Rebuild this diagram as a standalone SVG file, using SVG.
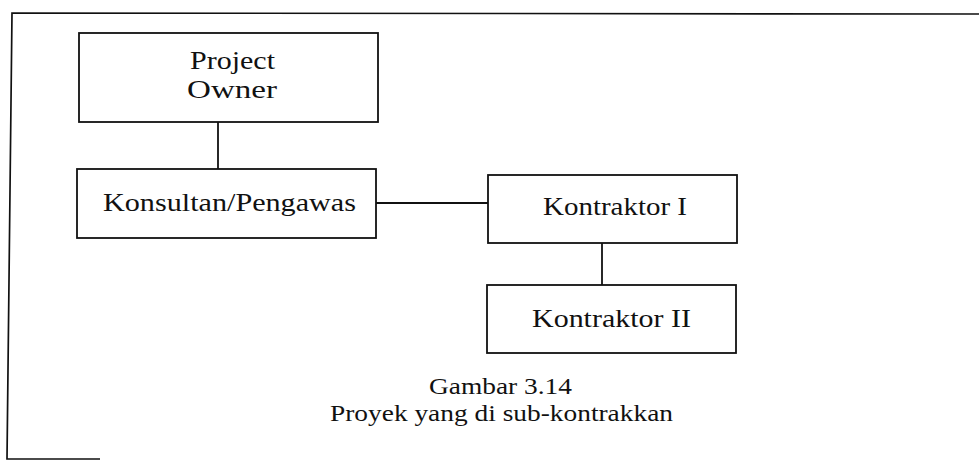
<svg xmlns="http://www.w3.org/2000/svg" width="979" height="461" viewBox="0 0 979 461">
  <style>
    .box { fill: #ffffff; stroke: #111111; stroke-width: 1.8; }
    .frame { fill: none; stroke: #111111; stroke-width: 1.7; }
    .link { fill: none; stroke: #111111; stroke-width: 1.8; }
    .label { font-family: "Liberation Serif", "Times New Roman", serif; font-size: 24.5px; fill: #111111; }
    .caption { font-family: "Liberation Serif", "Times New Roman", serif; font-size: 23px; fill: #111111; }
  </style>
  <rect width="979" height="461" fill="#ffffff"/>

  <!-- page frame: open on the right and along most of the bottom -->
  <g id="frame">
    <polyline class="frame" points="979,14 12,13 7,459 100,459"/>
  </g>

  <!-- connectors between the boxes -->
  <g id="connectors">
    <line class="link" x1="218" y1="122" x2="218" y2="169"/>
    <line class="link" x1="376" y1="203" x2="488" y2="203"/>
    <line class="link" x1="602" y1="243" x2="602" y2="285"/>
  </g>

  <g id="project-owner">
    <rect class="box" x="79" y="33" width="299" height="89"/>
    <text class="label" x="190" y="69" textLength="85" lengthAdjust="spacingAndGlyphs">Project</text>
    <text class="label" x="187" y="98" textLength="90" lengthAdjust="spacingAndGlyphs">Owner</text>
  </g>

  <g id="konsultan">
    <rect class="box" x="77" y="169" width="299" height="69"/>
    <text class="label" x="103" y="211" textLength="253" lengthAdjust="spacingAndGlyphs">Konsultan/Pengawas</text>
  </g>

  <g id="kontraktor-1">
    <rect class="box" x="488" y="175" width="249" height="68"/>
    <text class="label" x="543" y="215" textLength="144" lengthAdjust="spacingAndGlyphs">Kontraktor I</text>
  </g>

  <g id="kontraktor-2">
    <rect class="box" x="487" y="285" width="249" height="68"/>
    <text class="label" x="532" y="327" textLength="159" lengthAdjust="spacingAndGlyphs">Kontraktor II</text>
  </g>

  <g id="caption">
    <text class="caption" x="429" y="394" textLength="143" lengthAdjust="spacingAndGlyphs">Gambar 3.14</text>
    <text class="caption" x="330" y="421" textLength="343" lengthAdjust="spacingAndGlyphs">Proyek yang di sub-kontrakkan</text>
  </g>
</svg>
